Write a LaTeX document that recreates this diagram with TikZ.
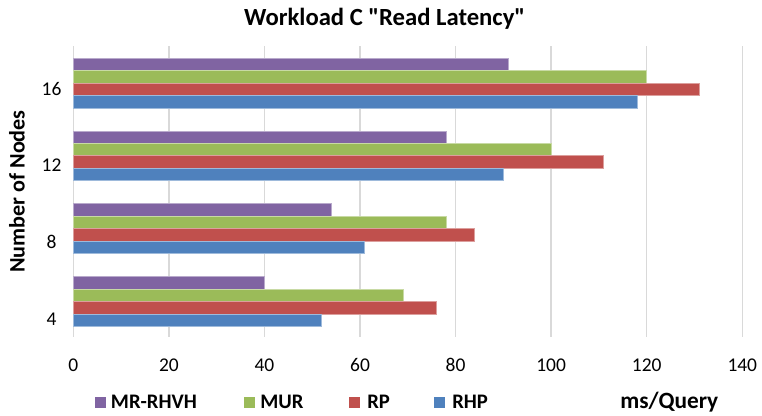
\documentclass[tikz,border=0pt]{standalone}
\usepackage{fontspec}
\setmainfont{Carlito}
% same face without the TeX input mapping, so " stays a straight quote
\newfontfamily\titlefont{Carlito}[Ligatures=ResetAll]
\definecolor{serMR}{HTML}{8064A2}
\definecolor{serMUR}{HTML}{9BBB59}
\definecolor{serRP}{HTML}{C0504D}
\definecolor{serRHP}{HTML}{4F81BD}
\definecolor{gridgrey}{HTML}{D9D9D9}
\tikzset{
  gridline/.style={draw=gridgrey, line width=1.1pt},
  ticklabel/.style={inner sep=0pt, anchor=base, font=\fontsize{14.6pt}{16pt}\selectfont},
  catlabel/.style={inner sep=0pt, anchor=base, font=\fontsize{14.6pt}{16pt}\selectfont},
  legtext/.style={inner sep=0pt, anchor=base west, font=\bfseries\fontsize{15.5pt}{17pt}\selectfont},
  legkey/.style={inner sep=0pt, minimum size=8.2pt, anchor=south west},
  hbarbox/.style={line width=0.45pt},
}
\begin{document}
\begin{tikzpicture}[x=0.75pt,y=-0.75pt]
\useasboundingbox (0,0) rectangle (762,415);
% vertical grid lines and value axis labels
\foreach \k/\v in {0/0,1/20,2/40,3/60,4/80,5/100,6/120,7/140}{
  \draw[gridline] ({73.3+\k*95.57},46) -- ({73.3+\k*95.57},337.3);
  \node[ticklabel] (tick\k) at ({73.3+\k*95.57},371.7) {\v};
}
% bars: one group of four per node count
\foreach \row/\va/\vb/\vc/\vd in {0/40/69/76/52, 1/54/78/84/61, 2/78/100/111/90, 3/91/120/131/118}{
  \pgfmathsetmacro\ytopbar{46+(3-\row)*72.83+12}
  \foreach \j/\val/\col in {0/\va/serMR, 1/\vb/serMUR, 2/\vc/serRP, 3/\vd/serRHP}{
    \filldraw[hbarbox, fill=\col, draw=\col!55!white]
      (73.3,{\ytopbar+\j*12.45}) rectangle ({73.3+\val*4.7785},{\ytopbar+(\j+1)*12.45});
  }
}
% category labels
\node[catlabel] (c16) at (51.5,95) {16};
\node[catlabel] (c12) at (51.5,171.7) {12};
\node[catlabel] (c8) at (51.5,248.3) {8};
\node[catlabel] (c4) at (51.5,325.7) {4};
% titles
\node[inner sep=0pt, anchor=base, font=\titlefont\bfseries\fontsize{18.5pt}{20pt}\selectfont] (title) at (384.7,25) {Workload C "Read Latency"};
\node[inner sep=0pt, rotate=90, font=\bfseries\fontsize{16.6pt}{18pt}\selectfont] (ylab) at (17,191.5) {Number of Nodes};
\node[inner sep=0pt, anchor=base west, font=\bfseries\fontsize{17.5pt}{19pt}\selectfont] (xlab) at (620,408) {ms/Query};
% legend
\node[legkey, fill=serMR] (kMR) at (94.3,408.3) {};
\node[legtext] (tMR) at (110.7,408.3) {MR-RHVH};
\node[legkey, fill=serMUR] (kMUR) at (243.3,408.3) {};
\node[legtext] (tMUR) at (260,408.3) {MUR};
\node[legkey, fill=serRP] (kRP) at (348.7,408.3) {};
\node[legtext] (tRP) at (367,408.3) {RP};
\node[legkey, fill=serRHP] (kRHP) at (434,408.3) {};
\node[legtext] (tRHP) at (452,408.3) {RHP};
\end{tikzpicture}
\end{document}
